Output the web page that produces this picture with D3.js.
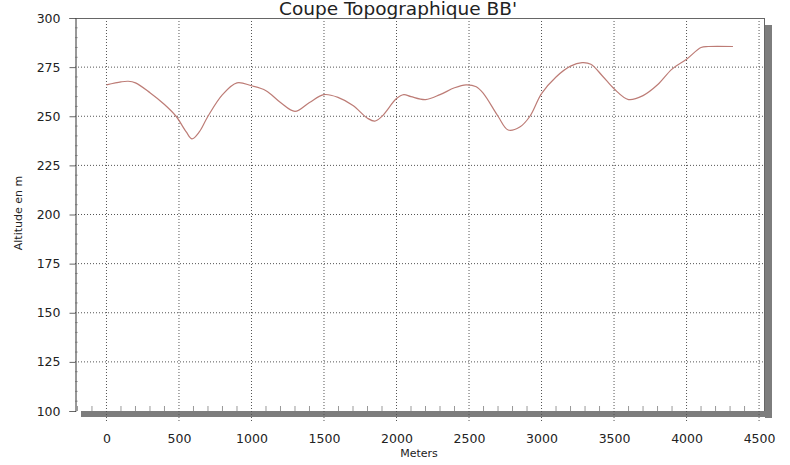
<!DOCTYPE html>
<html>
<head>
<meta charset="utf-8">
<title>Coupe Topographique BB'</title>
<script src="https://d3js.org/d3.v7.min.js"></script>
<style>
  body { margin: 0; background: #fff; }
  text { font-family: "DejaVu Sans", Verdana, sans-serif; fill: #222; }
</style>
</head>
<body>
<script>
// profile (distance in m, altitude in m)
var distances = [0, 100, 150, 200, 300, 400, 480, 550, 590, 640, 700, 800, 900, 1000,
  1100, 1200, 1300, 1400, 1500, 1600, 1700, 1800, 1850, 1900, 2000, 2050, 2100, 2200,
  2300, 2400, 2480, 2550, 2600, 2700, 2770, 2850, 2920, 3000, 3100, 3200, 3280, 3340,
  3420, 3500, 3600, 3700, 3800, 3900, 4000, 4100, 4150, 4320];
var altitudes = [266, 267.5, 267.8, 267, 262, 256, 250, 242, 238.5, 242, 250, 261, 267, 265.5,
  263, 257, 252.5, 257, 261, 259.5, 255.5, 249, 247.5, 250, 259, 261, 260, 258.5,
  261, 264.5, 266, 265, 261.5, 250, 243, 244.5, 250, 261.5, 270, 275.5, 277.3, 276.5,
  270.5, 264, 258.5, 260.5, 266, 274, 279, 285, 285.5, 285.5];
var xTicks = [0, 500, 1000, 1500, 2000, 2500, 3000, 3500, 4000, 4500];
var yTicks = [100, 125, 150, 175, 200, 225, 250, 275, 300];
var xMinor = d3.range(-200, 4600, 100).filter(function(d) { return d % 500 !== 0; });
var yMinor = d3.range(100, 300, 5).filter(function(d) { return d % 25 !== 0; });

var W = 790, H = 465;
var pl = 75, pr = 765, pt = 18, pb = 411;

var x = d3.scaleLinear().domain([-217, 4541]).range([pl, pr]);
var y = d3.scaleLinear().domain([100, 300]).range([pb, pt]);

var svg = d3.select("body").append("svg")
  .attr("width", W)
  .attr("height", H);

// frame shadow
svg.append("rect")
  .attr("x", pr).attr("y", pt + 7)
  .attr("width", 7).attr("height", pb - pt)
  .attr("fill", "#7d7d7d");
svg.append("rect")
  .attr("x", pl + 6).attr("y", pb)
  .attr("width", pr - pl + 1).attr("height", 6)
  .attr("fill", "#7d7d7d");

// grid
svg.append("g").selectAll("line").data(xTicks).enter().append("line")
  .attr("x1", x).attr("x2", x)
  .attr("y1", pt).attr("y2", pb + 11)
  .attr("stroke", "#555").attr("stroke-dasharray", "1,2");
svg.append("g").selectAll("line").data(yTicks.slice(1, -1)).enter().append("line")
  .attr("x1", pl).attr("x2", pr)
  .attr("y1", y).attr("y2", y)
  .attr("stroke", "#555").attr("stroke-dasharray", "1,2");

// minor ticks
svg.append("g").selectAll("line").data(xMinor).enter().append("line")
  .attr("x1", x).attr("x2", x)
  .attr("y1", pb - 5).attr("y2", pb)
  .attr("stroke", "#999");
svg.append("g").selectAll("line").data(yMinor).enter().append("line")
  .attr("x1", pl).attr("x2", pl + 3)
  .attr("y1", y).attr("y2", y)
  .attr("stroke", "#bbb");

// frame
svg.append("line").attr("x1", pl).attr("x2", pr).attr("y1", pt + 0.5).attr("y2", pt + 0.5)
  .attr("stroke", "#666");
svg.append("line").attr("x1", pr - 0.5).attr("x2", pr - 0.5).attr("y1", pt).attr("y2", pb)
  .attr("stroke", "#666");

// axes
var xAxis = svg.append("g")
  .attr("transform", "translate(0," + pb + ")")
  .call(d3.axisBottom(x).tickValues(xTicks).tickFormat(d3.format("d")).tickSize(0).tickPadding(23));
xAxis.select(".domain").remove();
xAxis.selectAll("text").style("font-size", "12.5px").style("font-family", "DejaVu Sans");

var yAxis = svg.append("g")
  .attr("transform", "translate(" + (pl + 0.5) + ",0)")
  .call(d3.axisLeft(y).tickValues(yTicks).tickFormat(d3.format("d")).tickSize(6).tickPadding(9));
yAxis.select(".domain").attr("stroke", "#333");
yAxis.selectAll(".tick line").attr("stroke", "#666");
yAxis.selectAll("text").style("font-size", "12.5px").style("font-family", "DejaVu Sans");

// profile line
var line = d3.line()
  .x(function(d, i) { return x(distances[i]); })
  .y(function(d) { return y(d); })
  .curve(d3.curveCatmullRom.alpha(0.5));

svg.append("path")
  .datum(altitudes)
  .attr("d", line)
  .attr("fill", "none")
  .attr("stroke", "#bd7c76")
  .attr("stroke-width", 1.2);

// titles
svg.append("text")
  .attr("x", 398).attr("y", 15)
  .attr("text-anchor", "middle")
  .style("font-size", "18.5px")
  .text("Coupe Topographique BB'");

svg.append("text")
  .attr("x", 419).attr("y", 457)
  .attr("text-anchor", "middle")
  .style("font-size", "11px")
  .text("Meters");

svg.append("text")
  .attr("transform", "translate(22,213) rotate(-90)")
  .attr("text-anchor", "middle")
  .style("font-size", "11px")
  .text("Altitude en m");
</script>
</body>
</html>
